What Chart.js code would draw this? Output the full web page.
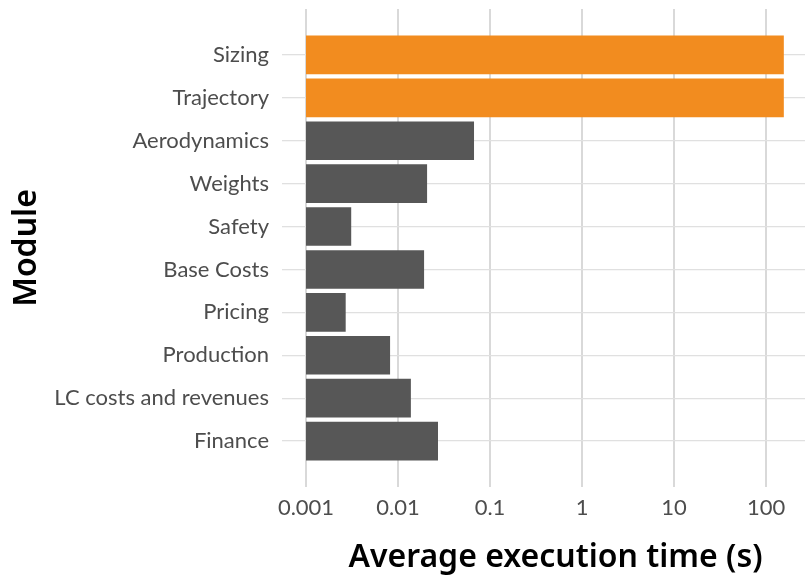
<!DOCTYPE html>
<html lang="en">
<head>
  <meta charset="UTF-8">
  <title>Average execution time by module</title>
  <script src="https://cdn.jsdelivr.net/npm/chart.js"></script>
  <style>
    html, body { margin: 0; padding: 0; background: #fff; }
    #wrap { width: 805px; height: 578px; }
  </style>
</head>
<body>
  <div id="wrap"><canvas id="moduleChart"></canvas></div>

  <script>
    // modules, top to bottom
    const modules = ['Sizing', 'Trajectory', 'Aerodynamics', 'Weights', 'Safety',
      'Base Costs', 'Pricing', 'Production', 'LC costs and revenues', 'Finance'];
    // average execution time in seconds
    const execTimes = [156, 156, 0.067, 0.0207, 0.0031, 0.0192, 0.0027, 0.0082, 0.0138, 0.0272];
    const highlighted = ['Sizing', 'Trajectory'];

    const tickValues = [0.001, 0.01, 0.1, 1, 10, 100];
    const tickLabels = ['0.001', '0.01', '0.1', '1', '10', '100'];

    const orange = '#f28c1f';
    const grey = '#575757';
    const gridColor = '#d9d9d9';

    // keep the layout from reserving room for edge labels
    function noEdgePadding(scale) {
      scale.paddingTop = 0;
      scale.paddingBottom = 0;
      scale.paddingLeft = 0;
      scale.paddingRight = 0;
    }

    const ctx = document.getElementById('moduleChart').getContext('2d');
    new Chart(ctx, {
      type: 'bar',
      data: {
        datasets: [{
          data: execTimes.map((v, i) => ({ x: v, y: i })),
          backgroundColor: (c) => highlighted.includes(modules[c.dataIndex]) ? orange : grey,
          barPercentage: 0.9,
          categoryPercentage: 1
        }]
      },
      options: {
        indexAxis: 'y',
        responsive: true,
        maintainAspectRatio: false,
        animation: false,
        layout: { padding: { top: 9, right: 0, bottom: 0, left: 0 } },
        plugins: {
          legend: { display: false },
          tooltip: { enabled: false }
        },
        scales: {
          x: {
            type: 'logarithmic',
            min: 0.001,
            max: 265,
            afterBuildTicks: (scale) => { scale.ticks = tickValues.map(v => ({ value: v })); },
            afterFit: (scale) => { scale.height = 91; noEdgePadding(scale); },
            border: { display: false },
            grid: { color: gridColor, lineWidth: 2, drawTicks: false },
            ticks: {
              padding: 8,
              color: '#4d4d4d',
              font: { family: 'Lato', size: 22 },
              callback: (v) => tickLabels[tickValues.indexOf(v)]
            },
            title: {
              display: true,
              text: 'Average execution time (s)',
              color: '#000',
              font: { family: 'Noto Sans', size: 32, weight: '600' },
              padding: { top: 0, bottom: 1 }
            }
          },
          y: {
            type: 'linear',
            reverse: true,
            offset: false,
            min: -1.07,
            max: modules.length - 1 + 1.07,
            afterBuildTicks: (scale) => { scale.ticks = modules.map((_, i) => ({ value: i })); },
            afterFit: (scale) => { scale.width = 306; noEdgePadding(scale); },
            border: { display: false },
            grid: { color: '#e0e0e0', lineWidth: 1.3, tickLength: 24, offset: false },
            ticks: {
              padding: 13,
              color: '#4d4d4d',
              font: { family: 'Lato', size: 22 },
              callback: (v) => modules[v]
            },
            title: {
              display: true,
              text: 'Module',
              color: '#000',
              font: { family: 'Noto Sans', size: 32, weight: '600' },
              padding: { top: 8, bottom: 0 }
            }
          }
        }
      }
    });
  </script>
</body>
</html>
